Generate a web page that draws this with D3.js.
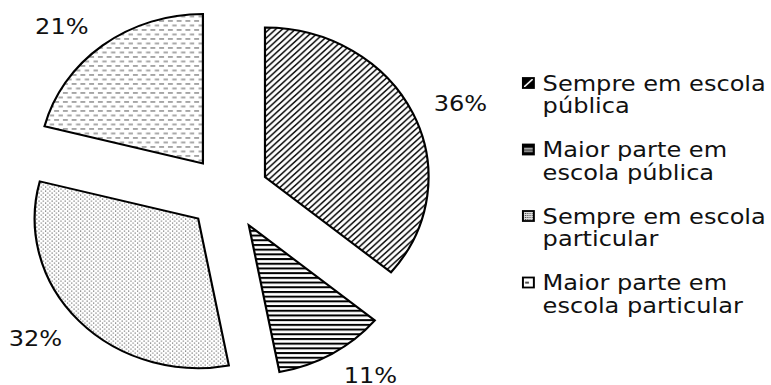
<!DOCTYPE html>
<html>
<head>
<meta charset="utf-8">
<script src="https://cdn.jsdelivr.net/npm/d3@7"></script>
<style>
  html, body { margin: 0; padding: 0; background: #fff; }
  svg { display: block; }
  text { font-family: "DejaVu Sans", Verdana, sans-serif; fill: #111; }
</style>
</head>
<body>
<svg id="chart" width="771" height="385"></svg>
<script>
// Trajetória escolar: share of each group
const categories = [
  "Sempre em escola pública",
  "Maior parte em escola pública",
  "Sempre em escola particular",
  "Maior parte em escola particular"
];
const values = [36, 11, 32, 21];
const patternIds = ["diag", "hlines", "dots", "dashes"];

const W = 771, H = 385;
const stretchX = 1.094;          // chart is drawn slightly wider than tall
const cx = 208.4, cy = 193, r = 149.5;
const explode = 0.25;            // slice offset as a fraction of the radius
const fontSize = 22;

const svg = d3.select("#chart");
svg.append("rect").attr("width", W).attr("height", H).attr("fill", "#fff");

// ---- fill patterns ----
const defs = svg.append("defs");

const pDiag = defs.append("pattern").attr("id", "diag")
  .attr("patternUnits", "userSpaceOnUse").attr("width", 6).attr("height", 6);
pDiag.append("rect").attr("width", 6).attr("height", 6).attr("fill", "#fff");
pDiag.append("path").attr("d", "M-1,1 L1,-1 M0,6 L6,0 M5,7 L7,5")
  .attr("stroke", "#000").attr("stroke-width", 1.4);

const pH = defs.append("pattern").attr("id", "hlines")
  .attr("patternUnits", "userSpaceOnUse").attr("width", 6).attr("height", 4.7);
pH.append("rect").attr("width", 6).attr("height", 4.7).attr("fill", "#fff");
pH.append("rect").attr("y", 0).attr("width", 6).attr("height", 2).attr("fill", "#000");

const pDots = defs.append("pattern").attr("id", "dots")
  .attr("patternUnits", "userSpaceOnUse").attr("width", 4).attr("height", 4);
pDots.append("rect").attr("width", 4).attr("height", 4).attr("fill", "#fff");
pDots.append("rect").attr("x", 0).attr("y", 0).attr("width", 1).attr("height", 1).attr("fill", "#444");
pDots.append("rect").attr("x", 2).attr("y", 2).attr("width", 1).attr("height", 1).attr("fill", "#444");

const pDash = defs.append("pattern").attr("id", "dashes")
  .attr("patternUnits", "userSpaceOnUse").attr("width", 8).attr("height", 9);
pDash.append("rect").attr("width", 8).attr("height", 9).attr("fill", "#fff");
pDash.append("rect").attr("x", 0).attr("y", 1).attr("width", 4.5).attr("height", 1).attr("fill", "#555");
pDash.append("rect").attr("x", 4).attr("y", 5.5).attr("width", 4.5).attr("height", 1).attr("fill", "#555");

// bolder, smaller-scale fills for the legend keys
const kDiag = defs.append("pattern").attr("id", "k-diag")
  .attr("patternUnits", "userSpaceOnUse").attr("width", 10).attr("height", 10);
kDiag.append("rect").attr("width", 10).attr("height", 10).attr("fill", "#000");
kDiag.append("path").attr("d", "M1,9 L9,1").attr("stroke", "#fff").attr("stroke-width", 1.6);

const kH = defs.append("pattern").attr("id", "k-hlines")
  .attr("patternUnits", "userSpaceOnUse").attr("width", 10).attr("height", 10);
kH.append("rect").attr("width", 10).attr("height", 10).attr("fill", "#000");
kH.append("rect").attr("x", 1).attr("y", 3.6).attr("width", 8).attr("height", 1.3).attr("fill", "#fff");
kH.append("rect").attr("x", 1).attr("y", 6.2).attr("width", 8).attr("height", 1.1).attr("fill", "#fff");

const kDots = defs.append("pattern").attr("id", "k-dots")
  .attr("patternUnits", "userSpaceOnUse").attr("width", 2).attr("height", 2);
kDots.append("rect").attr("width", 2).attr("height", 2).attr("fill", "#ddd");
kDots.append("rect").attr("width", 1).attr("height", 1).attr("fill", "#555");

const kDash = defs.append("pattern").attr("id", "k-dashes")
  .attr("patternUnits", "userSpaceOnUse").attr("width", 10).attr("height", 10);
kDash.append("rect").attr("width", 10).attr("height", 10).attr("fill", "#fff");
kDash.append("rect").attr("x", 2).attr("y", 4.5).attr("width", 3.5).attr("height", 1.4).attr("fill", "#000");

const g = svg.append("g").attr("transform", `scale(${stretchX},1)`);

// ---- exploded pie ----
const pie = d3.pie().sort(null).value(d => d.value);
const arc = d3.arc().innerRadius(0).outerRadius(r);
const data = categories.map((c, i) => ({ name: c, value: values[i], fill: patternIds[i] }));
const arcs = pie(data);

const dirOf = d => {
  const mid = (d.startAngle + d.endAngle) / 2;
  return [Math.sin(mid), -Math.cos(mid)];
};

g.selectAll("path.slice").data(arcs).join("path")
  .attr("class", "slice")
  .attr("transform", d => {
    const [dx, dy] = dirOf(d);
    return `translate(${cx + dx * explode * r},${cy + dy * explode * r})`;
  })
  .attr("d", arc)
  .attr("fill", d => `url(#${d.data.fill})`)
  .attr("stroke", "#000")
  .attr("stroke-width", 2)
  .attr("stroke-linejoin", "miter");

// ---- percentage labels just outside each slice ----
const labelGap = 21;
g.selectAll("text.pct").data(arcs).join("text")
  .attr("class", "pct")
  .attr("font-size", fontSize)
  .attr("text-anchor", d => dirOf(d)[0] >= 0 ? "start" : "end")
  .attr("x", d => {
    const [dx] = dirOf(d);
    return cx + dx * explode * r + dx * (r + labelGap);
  })
  .attr("y", d => {
    const [, dy] = dirOf(d);
    return cy + dy * explode * r + dy * (r + labelGap) + dy * 4 + 8;
  })
  .text(d => d.data.value + "%");

// ---- legend ----
const legendX = 478, textX = 496, lineH = 22.5, itemGap = 21.5, maxW = 215;
const legend = g.append("g");
let baseY = 91;
data.forEach(d => {
  const item = legend.append("g");
  const kx = legendX, ky = baseY - 13;
  item.append("rect")
    .attr("transform", `translate(${kx},${ky})`)
    .attr("x", 0).attr("y", 0)
    .attr("width", 10).attr("height", 10)
    .attr("fill", `url(#k-${d.fill})`)
    .attr("stroke", "#000").attr("stroke-width", 1.8);

  const t = item.append("text").attr("font-size", fontSize).attr("x", textX).attr("y", baseY);
  // wrap words to the legend width
  const words = d.name.split(" ");
  let line = [], lineNo = 0;
  let tspan = t.append("tspan").attr("x", textX).attr("y", baseY);
  words.forEach(w => {
    line.push(w);
    tspan.text(line.join(" "));
    if (tspan.node().getComputedTextLength() > maxW && line.length > 1) {
      line.pop();
      tspan.text(line.join(" "));
      line = [w];
      lineNo++;
      tspan = t.append("tspan").attr("x", textX).attr("y", baseY + lineNo * lineH).text(w);
    }
  });
  baseY += (lineNo + 1) * lineH + itemGap;
});
</script>
</body>
</html>
